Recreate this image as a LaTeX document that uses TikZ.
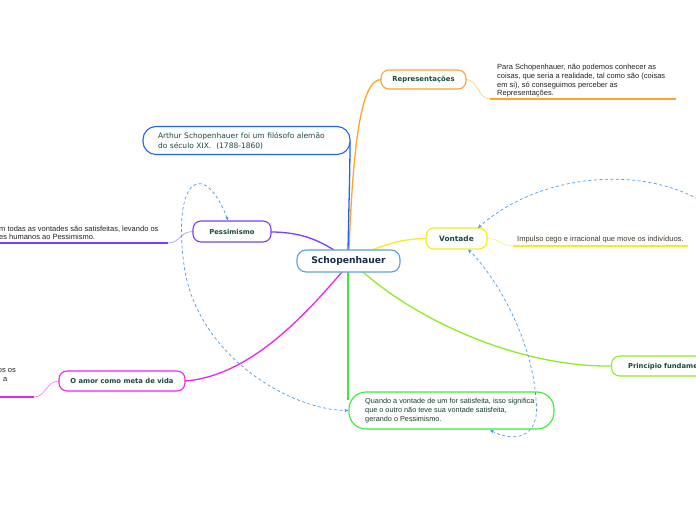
\documentclass[tikz,border=0pt]{standalone}
\usepackage{fontspec}
\setmainfont{DejaVu Sans}
\newfontfamily\notefont{Liberation Sans}
\usetikzlibrary{arrows.meta}
\definecolor{cblue}{HTML}{5AA0DC}
\definecolor{corange}{HTML}{FFA424}
\definecolor{cdblue}{HTML}{2160FF}
\definecolor{cpurple}{HTML}{7B3CFF}
\definecolor{cmag}{HTML}{EE22EE}
\definecolor{cyel}{HTML}{EEEE22}
\definecolor{clime}{HTML}{8CEE22}
\definecolor{cgreen}{HTML}{33EE33}
\definecolor{cdash}{HTML}{4A9AE8}
\definecolor{lbl}{HTML}{1B4A3C}
\definecolor{navy}{HTML}{1A2B4C}
\definecolor{notec}{HTML}{222222}
\tikzset{
  topic/.style={draw, line width=1.1pt, fill=white, rounded corners=8pt, inner sep=0pt,
    font=\fontsize{6.8}{8}\selectfont\bfseries, text=lbl},
  note/.style={inner sep=0pt, align=left, anchor=north west, text=notec,
    font=\notefont\fontsize{7.5}{8.7}\selectfont},
  branch/.style={line width=1.3pt},
  thin/.style={line width=0.6pt},
  uline/.style={line width=1.6pt},
  rel/.style={cdash, dashed, line width=0.7pt, dash pattern=on 3pt off 2.5pt},
  tip/.style={-{Stealth[length=4pt,width=3.5pt]}},
  tips/.style={{Stealth[length=4pt,width=3.5pt]}-{Stealth[length=4pt,width=3.5pt]}}
}
\begin{document}
\begin{tikzpicture}[x=1pt,y=-1pt]
\useasboundingbox (0,0) rectangle (696,520);
% anchors for connectors
\coordinate (repU) at (490,99);
\coordinate (repE) at (676,99);
\coordinate (pesU) at (168,243);
\coordinate (pesE) at (0,243);
\coordinate (amoU) at (34,397);
\coordinate (amoE) at (0,397);
\coordinate (vonU) at (513,246);
\coordinate (vonE) at (688,246);
\coordinate (offR) at (712,208);

% main branches
\draw[branch, corange] (349,250) .. controls (353,150) and (360,80) .. (381,79.5);
\draw[branch, cdblue] (348,250) .. controls (349,200) and (350,170) .. (350,142);
\draw[branch, cpurple] (271,232) .. controls (300,232) and (318,240) .. (334,250);
\draw[branch, cmag] (185,381) .. controls (250,376) and (305,315) .. (342,272);
\draw[branch, cyel] (372,250) .. controls (395,241) and (408,239) .. (426,238.5);
\draw[branch, clime] (363,272) .. controls (420,322) and (520,367) .. (611,366);
\draw[branch, cgreen] (348,272) -- (348,400);

% note connectors and underlines
\draw[thin, corange!60] (466,79.5) .. controls (478,79.5) and (478,99) .. (repU);
\draw[uline, corange] (repU) -- (repE);
\draw[thin, cpurple!60] (193,231.5) .. controls (180,231.5) and (180,243) .. (pesU);
\draw[uline, cpurple] (pesU) -- (pesE);
\draw[thin, cmag!60] (59,381) .. controls (46,381) and (46,397) .. (amoU);
\draw[uline, cmag] (amoU) -- (amoE);
\draw[thin, cyel!70] (487,238.5) .. controls (500,238.5) and (500,246) .. (vonU);
\draw[uline, cyel] (vonU) -- (vonE);

% nodes
\node[topic, draw=cblue, minimum width=103pt, minimum height=22pt, rounded corners=9pt,
  font=\fontsize{9.2}{10}\selectfont\bfseries, text=navy] (sch) at (348.5,261) {Schopenhauer};
\node[topic, draw=corange, minimum width=85pt, minimum height=19pt, font=\fontsize{6.9}{8}\selectfont\bfseries] (rep) at (423.5,79.5) {Representações};
\node[topic, draw=cdblue, minimum width=207pt, minimum height=28pt, rounded corners=13pt,
  font=\fontsize{7.5}{10}\selectfont, align=left, text width=177pt, inner xsep=0pt] (art) at (246.5,140.5)
  {Arthur Schopenhauer foi um filósofo alemão\\do século XIX.\ \ (1788-1860)};
\node[topic, draw=cpurple, minimum width=78pt, minimum height=21pt] (pes) at (232,231.5) {Pessimismo};
\node[topic, draw=cmag, minimum width=126pt, minimum height=20pt] (amo) at (122,381) {O amor como meta de vida};
\node[topic, draw=cyel, minimum width=61pt, minimum height=21pt, font=\fontsize{7.4}{9}\selectfont\bfseries] (von) at (456.5,238.5) {Vontade};
\node[topic, draw=clime, minimum width=120pt, minimum height=20pt, anchor=west, align=left,
  text width=109pt, inner xsep=0pt] (pri) at (611,366) {\hspace*{11pt}Princípio fundamental};
\node[topic, draw=cgreen, minimum width=205pt, minimum height=37pt, rounded corners=17pt] (qua) at (451.5,410.5) {};
\node[note, font=\notefont\fontsize{7.3}{9}\selectfont, text=lbl!80!black] (quaT) at (365,398)
  {Quando a vontade de um for satisfeita, isso significa\\que o outro não teve sua vontade satisfeita,\\gerando o Pessimismo.};

% notes
\node[note] (repN) at (497,64) {Para Schopenhauer, não podemos conhecer as\\coisas, que seria a realidade, tal como são (coisas\\em si), só conseguimos perceber as\\Representações.};
\node[note] (pesN) at (-1,225.5) {m todas as vontades são satisfeitas, levando os\\es humanos ao Pessimismo.};
\node[note, anchor=north east] (amoN1) at (16,368) {os os};
\node[note, anchor=north east] (amoN2) at (7.5,377) {a};
\node[note, text=notec!80!brown] (vonN) at (517,235.5) {Impulso cego e irracional que move os indivíduos.};

% relations
\draw[rel, tips] (pes.north) ++(-4,0) coordinate (pesT)
  (pesT) .. controls (205,160) and (172,175) .. (184,265)
  .. controls (196,355) and (290,410) .. (qua.west);
\draw[rel, tips] (490,430) coordinate (quaB) .. controls (512,442) and (541,440) .. (536,400)
  .. controls (532,335) and (492,272) .. (468,249.5);
\draw[rel, tip] (offR) .. controls (650,163) and (540,172) .. (478,228);
\end{tikzpicture}
\end{document}
